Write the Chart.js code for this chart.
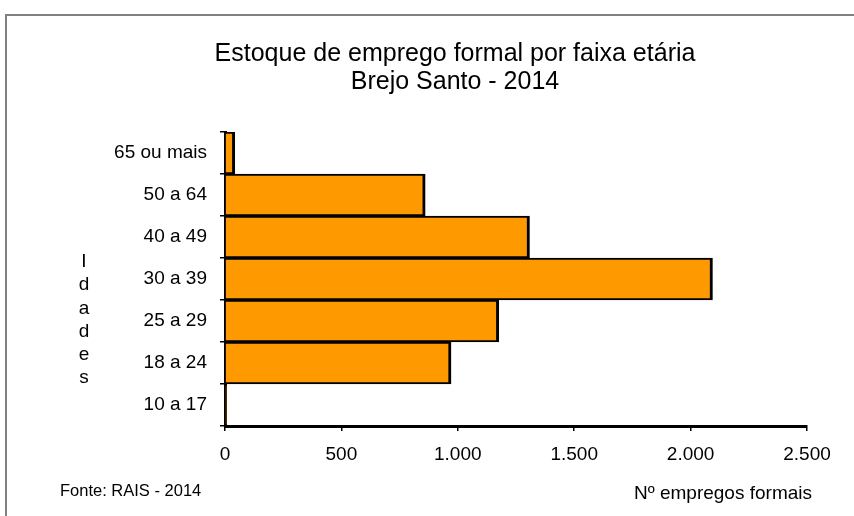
<!DOCTYPE html>
<html lang="pt-BR">
<head>
  <meta charset="UTF-8" />
  <title>Estoque de emprego formal por faixa etária</title>
  <script src="https://cdn.jsdelivr.net/npm/chart.js"></script>
  <style>
    body { margin: 0; background: #fff; }
    #wrap { position: relative; width: 854px; height: 516px; }
  </style>
</head>
<body>
  <div id="wrap"><canvas id="chart" width="854" height="516"></canvas></div>

  <script>
    // Dados
    const faixas = ['65 ou mais', '50 a 64', '40 a 49', '30 a 39', '25 a 29', '18 a 24', '10 a 17'];
    const empregos = [42, 860, 1308, 2094, 1176, 971, 6];
    const xTicks = [0, 500, 1000, 1500, 2000, 2500];
    const titulo = ['Estoque de emprego formal por faixa etária', 'Brejo Santo - 2014'];
    const eixoY = ['I', 'd', 'a', 'd', 'e', 's'];
    const fonte = 'Fonte: RAIS - 2014';
    const eixoX = 'Nº empregos formais';

    const FAM = '"Liberation Sans", Arial, sans-serif';
    function milhar(v) { return String(v).replace(/\B(?=(\d{3})+(?!\d))/g, '.'); }

    // moldura cinza + textos soltos (eixo vertical letra a letra, fonte, rótulo X)
    const extras = {
      id: 'extras',
      beforeDraw(chart) {
        const ctx = chart.ctx;
        ctx.save();
        ctx.strokeStyle = '#808080'; ctx.lineWidth = 2;
        ctx.beginPath(); ctx.moveTo(6, 516); ctx.lineTo(6, 15); ctx.lineTo(854, 15); ctx.stroke();
        ctx.restore();
      },
      afterDraw(chart) {
        const ctx = chart.ctx;
        ctx.save();
        ctx.fillStyle = '#000';
        ctx.textBaseline = 'middle';
        ctx.textAlign = 'center';
        ctx.font = '19px ' + FAM;
        eixoY.forEach((c, i) => ctx.fillText(c, 84, 262 + i * 23.2));
        ctx.textAlign = 'left';
        ctx.fillText(eixoX, 634, 494);
        ctx.font = '16.5px ' + FAM;
        ctx.fillText(fonte, 60, 491);
        ctx.restore();
      }
    };

    new Chart(document.getElementById('chart'), {
      type: 'bar',
      data: {
        labels: faixas,
        datasets: [{
          data: empregos,
          backgroundColor: '#FF9900',
          borderColor: '#000',
          borderWidth: { top: 2, bottom: 2, right: 3 },
          borderSkipped: 'start',
          barPercentage: 1,
          categoryPercentage: 1
        }]
      },
      options: {
        indexAxis: 'y',
        responsive: false,
        animation: false,
        layout: { padding: { left: 103, right: 47, top: 0, bottom: 0 } },
        plugins: {
          legend: { display: false },
          tooltip: { enabled: false },
          title: {
            display: true,
            text: titulo,
            color: '#000',
            font: { family: FAM, size: 25, weight: 'normal', lineHeight: 1.12 },
            padding: { top: 40, bottom: 36 }
          }
        },
        scales: {
          x: {
            min: 0, max: 2500,
            afterBuildTicks: s => { s.ticks = xTicks.map(v => ({ value: v })); },
            afterFit: s => { s.height = 90; },
            ticks: { color: '#000', padding: 12, maxRotation: 0, font: { family: FAM, size: 19 }, callback: v => milhar(v) },
            grid: { drawOnChartArea: false, drawTicks: true, tickLength: 5, color: '#000', lineWidth: 1.5 },
            border: { display: true, color: '#000', width: 3 }
          },
          y: {
            afterFit: s => { s.width = 122; },
            ticks: { color: '#000', padding: 13, font: { family: FAM, size: 19 } },
            grid: { offset: true, drawOnChartArea: false, drawTicks: true, tickLength: 5, color: '#000', lineWidth: 1.5 },
            border: { display: true, color: '#000', width: 3 }
          }
        }
      },
      plugins: [extras]
    });
  </script>
</body>
</html>
